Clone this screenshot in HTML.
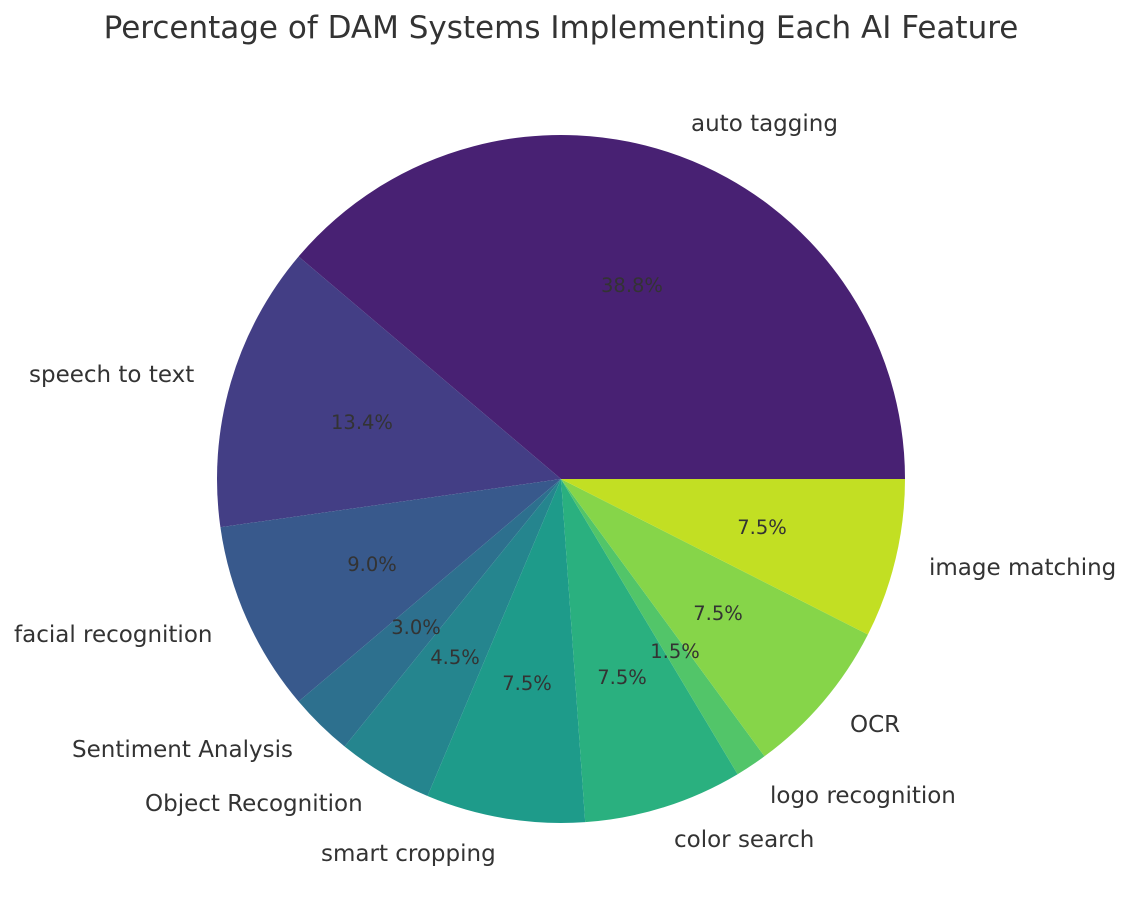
<!DOCTYPE html>
<html><head><meta charset="utf-8"><style>
html,body{margin:0;padding:0;background:#fff;}
svg{display:block;font-family:"DejaVu Sans","Liberation Sans",sans-serif;}
.l{font-size:23px;fill:#333;}
.p{font-size:19.5px;fill:#333;text-anchor:middle;}
</style></head><body>
<svg width="1133" height="924" viewBox="0 0 1133 924">
<text x="561" y="38" text-anchor="middle" style="font-size:31px;fill:#333">Percentage of DAM Systems Implementing Each AI Feature</text>
<g stroke="none">
<path d="M561,479 L905,479 A344,344 0 0 0 298.6,256.5 Z" fill="#482173"/>
<path d="M561,479 L298.6,256.5 A344,344 0 0 0 220.4,527.2 Z" fill="#433e85"/>
<path d="M561,479 L220.4,527.2 A344,344 0 0 0 298.6,701.5 Z" fill="#38598c"/>
<path d="M561,479 L298.6,701.5 A344,344 0 0 0 344.6,746.5 Z" fill="#2d708e"/>
<path d="M561,479 L344.6,746.5 A344,344 0 0 0 427.5,796.0 Z" fill="#25858e"/>
<path d="M561,479 L427.5,796.0 A344,344 0 0 0 585.2,822.1 Z" fill="#1e9b8a"/>
<path d="M561,479 L585.2,822.1 A344,344 0 0 0 737.6,774.2 Z" fill="#2ab07f"/>
<path d="M561,479 L737.6,774.2 A344,344 0 0 0 764.5,756.3 Z" fill="#52c569"/>
<path d="M561,479 L764.5,756.3 A344,344 0 0 0 867.9,634.5 Z" fill="#86d549"/>
<path d="M561,479 L867.9,634.5 A344,344 0 0 0 905,479 Z" fill="#c2df23"/>
</g>
<text class="p" x="632" y="292">38.8%</text>
<text class="p" x="362" y="429">13.4%</text>
<text class="p" x="372" y="571">9.0%</text>
<text class="p" x="416" y="634">3.0%</text>
<text class="p" x="455" y="664">4.5%</text>
<text class="p" x="527" y="690">7.5%</text>
<text class="p" x="622" y="684">7.5%</text>
<text class="p" x="675" y="658">1.5%</text>
<text class="p" x="718" y="620">7.5%</text>
<text class="p" x="762" y="534">7.5%</text>
<text class="l" x="691" y="131">auto tagging</text>
<text class="l" x="29" y="382">speech to text</text>
<text class="l" x="14" y="642">facial recognition</text>
<text class="l" x="72" y="757">Sentiment Analysis</text>
<text class="l" x="145" y="811">Object Recognition</text>
<text class="l" x="321" y="861">smart cropping</text>
<text class="l" x="674" y="847">color search</text>
<text class="l" x="770" y="803">logo recognition</text>
<text class="l" x="850" y="732">OCR</text>
<text class="l" x="929" y="575">image matching</text>
</svg>
</body></html>
